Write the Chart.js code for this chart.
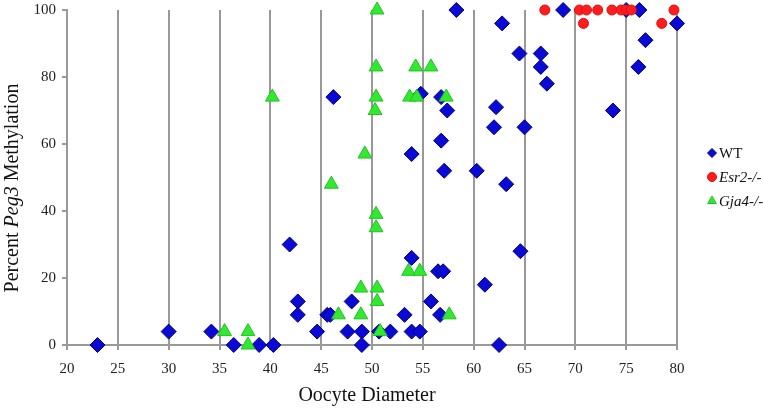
<!DOCTYPE html>
<html>
<head>
<meta charset="utf-8">
<script src="https://cdn.jsdelivr.net/npm/chart.js@4.4.1/dist/chart.umd.min.js"></script>
<style>
  html, body { margin: 0; background: #fff; }
  #wrap { width: 763px; height: 408px; }
</style>
</head>
<body>
<div id="wrap"><canvas id="c" width="763" height="408"></canvas></div>
<script>
// ----- data -----
const wtX = [23, 30, 34.2, 36.4, 38.9, 40.3, 41.9, 42.7, 42.7, 44.6, 45.6, 45.9, 47.6, 48.0, 49.0, 49.0,
  50.7, 51.8, 53.2, 53.9, 54.7, 53.9, 53.9, 56.5, 57.0, 55.8, 56.7, 61.1, 62.5, 64.6, 63.2, 57.1,
  60.3, 56.8, 62.0, 65.0, 57.4, 62.2, 54.8, 56.8, 46.2, 58.3, 62.8, 64.5, 66.6, 66.6, 67.2, 68.8,
  73.7, 75.0, 76.3, 76.9, 76.2, 80.0];
const wtY = [0, 4, 4, 0, 0, 0, 30, 13, 9, 4, 9, 9, 4, 13, 4, 0,
  4, 4, 9, 4, 4, 26, 57, 22, 22, 13, 9, 18, 0, 28, 48, 52,
  52, 61, 65, 65, 70, 71, 75, 74, 74, 100, 96, 87, 87, 83, 78, 100,
  70, 100, 100, 91, 83, 96];

const esrX = [67.0, 70.4, 71.1, 70.8, 72.2, 73.6, 74.5, 75.0, 75.5, 78.5, 79.7];
const esrY = [100, 100, 100, 96, 100, 100, 100, 100, 100, 96, 100];

const gjaX = [35.5, 37.8, 37.8, 40.2, 46.0, 46.7, 49.3, 48.9, 48.9, 50.5, 50.4, 50.4, 50.3,
  50.4, 50.4, 50.5, 50.5, 50.8, 53.7, 54.4, 54.3, 55.8, 53.6, 54.7, 57.3, 57.6];
const gjaY = [4, 4, 0, 74, 48, 9, 57, 17, 9, 100, 83, 74, 70,
  39, 35, 17, 13, 4, 74, 74, 83, 83, 22, 22, 74, 9];

const xTicks = [20, 25, 30, 35, 40, 45, 50, 55, 60, 65, 70, 75, 80];
const yTicks = [0, 20, 40, 60, 80, 100];

const xTitle = 'Oocyte Diameter';
const yTitle = [['Percent ', ''], ['Peg3', 'italic '], [' Methylation', '']];

const SERIF = '"Liberation Serif", "Times New Roman", serif';
const GRID = '#999';
const pts = (xs, ys) => xs.map((x, i) => ({x, y: ys[i]}));

const sets = [
  {label: 'WT', data: pts(wtX, wtY), pointStyle: 'rectRot', pointRadius: 7.5,
   backgroundColor: '#0a0ad4', borderColor: '#000080', italic: false, legR: 4.5, order: 2},
  {label: 'Esr2-/-', data: pts(esrX, esrY), pointStyle: 'circle', pointRadius: 5,
   backgroundColor: '#ff1c1c', borderColor: '#e01010', italic: true, legR: 4.5, order: 1},
  {label: 'Gja4-/-', data: pts(gjaX, gjaY), pointStyle: 'triangle', pointRadius: 8,
   backgroundColor: '#30ea30', borderColor: '#25c025', italic: true, legR: 5, order: 0},
];

// axis titles + legend, drawn on the canvas so Peg3 / gene names can be italic
const extras = {
  id: 'extras',
  afterDraw(chart) {
    const ctx = chart.ctx;
    ctx.save();
    ctx.fillStyle = '#111';
    ctx.textBaseline = 'middle';

    // x title
    ctx.font = '20px ' + SERIF;
    ctx.textAlign = 'center';
    ctx.fillText(xTitle, 367, 396);

    // y title, mixed roman / italic
    ctx.translate(13, 188);
    ctx.rotate(-Math.PI / 2);
    ctx.textAlign = 'left';
    let w = 0;
    yTitle.forEach(([t, st]) => { ctx.font = st + '20px ' + SERIF; w += ctx.measureText(t).width; });
    let x = -w / 2;
    yTitle.forEach(([t, st]) => {
      ctx.font = st + '20px ' + SERIF;
      ctx.fillText(t, x, 0);
      x += ctx.measureText(t).width;
    });
    ctx.restore();

    // legend
    ctx.save();
    sets.forEach((s, i) => {
      const ly = 153 + i * 24;
      ctx.fillStyle = s.backgroundColor;
      ctx.strokeStyle = s.borderColor;
      ctx.lineWidth = 1;
      Chart.helpers.drawPoint(ctx, {pointStyle: s.pointStyle, radius: s.legR, rotation: 0, borderWidth: 1}, 712, ly);
      ctx.fillStyle = '#111';
      ctx.textAlign = 'left';
      ctx.textBaseline = 'middle';
      ctx.font = (s.italic ? 'italic ' : '') + '15px ' + SERIF;
      ctx.fillText(s.label, 719, ly + 1);
    });
    ctx.restore();
  }
};

new Chart(document.getElementById('c'), {
  type: 'scatter',
  data: {
    datasets: sets.map(s => ({
      label: s.label, data: s.data, pointStyle: s.pointStyle,
      pointRadius: s.pointRadius, pointHoverRadius: s.pointRadius,
      backgroundColor: s.backgroundColor, borderColor: s.borderColor,
      borderWidth: 1, clip: false, order: s.order
    }))
  },
  options: {
    responsive: false,
    animation: false,
    devicePixelRatio: 1,
    layout: {padding: {left: 0, right: 86, top: 10, bottom: 0}},
    plugins: {legend: {display: false}, tooltip: {enabled: false}},
    scales: {
      x: {
        type: 'linear', min: 20, max: 80,
        afterFit: s => { s.height = 63; s.paddingLeft = 0; s.paddingRight = 0; },
        afterBuildTicks: s => { s.ticks = xTicks.map(v => ({value: v})); },
        grid: {color: GRID, lineWidth: 2, tickLength: 5, drawTicks: true},
        border: {color: GRID, width: 2},
        ticks: {color: '#222', padding: 10, maxRotation: 0, font: {family: SERIF, size: 15}}
      },
      y: {
        type: 'linear', min: 0, max: 100,
        afterFit: s => { s.width = 67; s.paddingTop = 0; s.paddingBottom = 0; },
        afterBuildTicks: s => { s.ticks = yTicks.map(v => ({value: v})); },
        grid: {drawOnChartArea: false, color: GRID, lineWidth: 2, tickLength: 5},
        border: {color: GRID, width: 2},
        ticks: {color: '#222', padding: 6, font: {family: SERIF, size: 15}}
      }
    }
  },
  plugins: [extras]
});
</script>
</body>
</html>
